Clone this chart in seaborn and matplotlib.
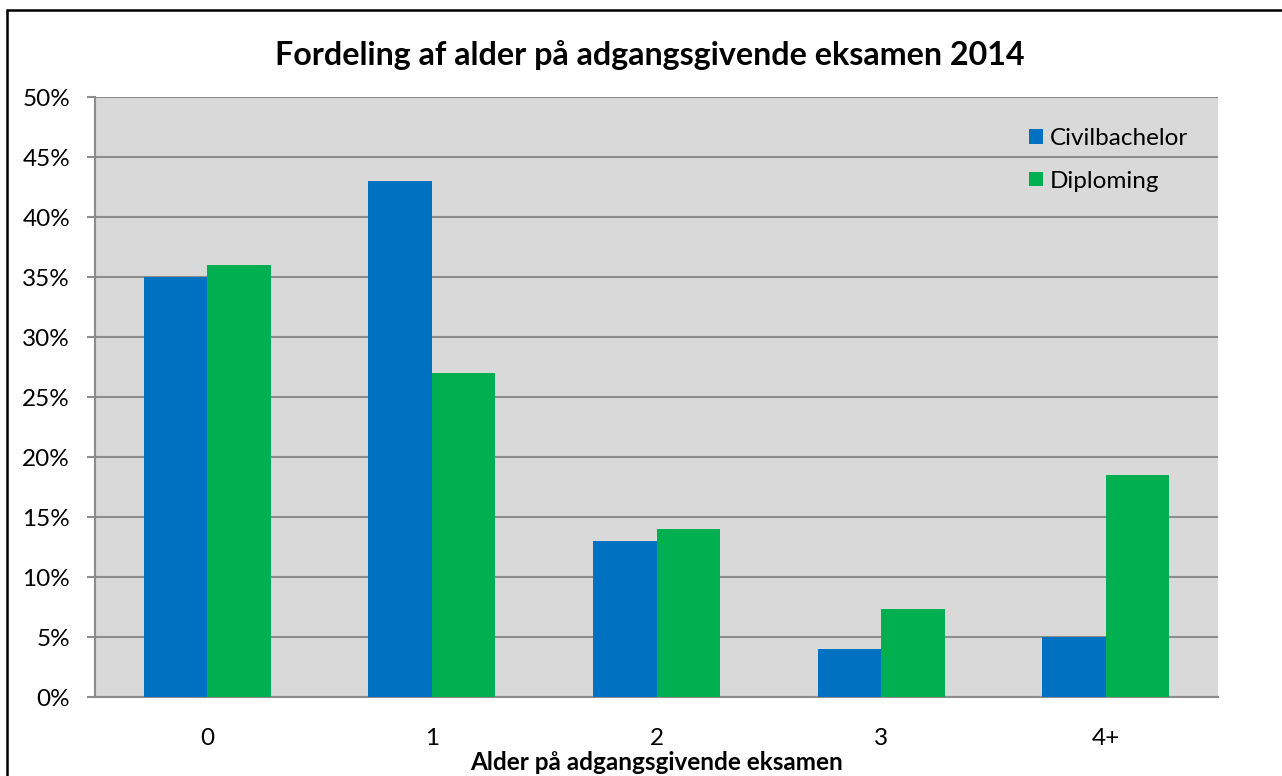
import pandas as pd
import seaborn as sns
import matplotlib.pyplot as plt
from matplotlib.patches import Rectangle
from matplotlib.ticker import PercentFormatter

# values (percent)
ages = ['0', '1', '2', '3', '4+']
civilbachelor = [35, 43, 13, 4, 5]
diploming = [36, 27, 14, 7.3, 18.5]
series_names = ['Civilbachelor', 'Diploming']
colors = ['#0070C0', '#00B050']


def build_frame():
    rows = []
    for name, values in zip(series_names, [civilbachelor, diploming]):
        for age, value in zip(ages, values):
            rows.append({'alder': age, 'uddannelse': name, 'andel': value})
    return pd.DataFrame(rows)


def main():
    sns.set_theme(style='white')
    plt.rcParams['font.family'] = ['Lato', 'DejaVu Sans']
    plt.rcParams['text.color'] = 'black'
    plt.rcParams['axes.labelcolor'] = 'black'
    df = build_frame()

    fig = plt.figure(figsize=(12.82, 7.76), dpi=100)
    ax = fig.add_axes([95 / 1282, 1 - 697 / 776, 1123 / 1282, 600 / 776])
    ax.set_facecolor('#D9D9D9')

    sns.barplot(data=df, x='alder', y='andel', hue='uddannelse',
                hue_order=series_names, order=ages, palette=colors,
                width=0.566, saturation=1, linewidth=0, ax=ax, zorder=3)

    ax.set_ylim(0, 50)
    ax.set_yticks(range(0, 51, 5))
    ax.yaxis.set_major_formatter(PercentFormatter(decimals=0))
    ax.grid(axis='y', color='#8C8C8C', linewidth=1.5, zorder=0)
    ax.set_axisbelow(True)
    for side in ['top', 'right']:
        ax.spines[side].set_visible(False)
    ax.spines['left'].set_color('#8C8C8C')
    ax.spines['left'].set_linewidth(1.5)
    ax.spines['bottom'].set_color('#8C8C8C')
    ax.spines['bottom'].set_linewidth(1.5)
    ax.tick_params(axis='y', which='major', left=True, length=6, width=1.5,
                   color='#8C8C8C', pad=12, labelsize=17.5, labelcolor='black')
    ax.tick_params(axis='x', bottom=False, pad=16, labelsize=17.5,
                   labelcolor='black')

    ax.set_ylabel('')
    ax.set_xlabel('Alder på adgangsgivende eksamen', fontsize=17.5,
                  fontweight='bold', labelpad=2)

    handles, labels = ax.get_legend_handles_labels()
    ax.legend(handles, labels, loc='upper right', frameon=False,
              fontsize=17.5, handlelength=0.55, handleheight=0.55,
              handletextpad=0.3, labelspacing=0.9,
              bbox_to_anchor=(0.993, 0.985))

    fig.text(0.507, 1 - 55 / 776, 'Fordeling af alder på adgangsgivende eksamen 2014',
             ha='center', va='center', fontsize=23.2, fontweight='bold')

    # outer chart border
    fig.patches.append(Rectangle((7 / 1282, -0.05), 1.1, 1 - 10 / 776 + 0.05,
                                 transform=fig.transFigure, fill=False,
                                 edgecolor='black', linewidth=1.8))

    fig.savefig('out.png', dpi=100)


if __name__ == '__main__':
    main()
